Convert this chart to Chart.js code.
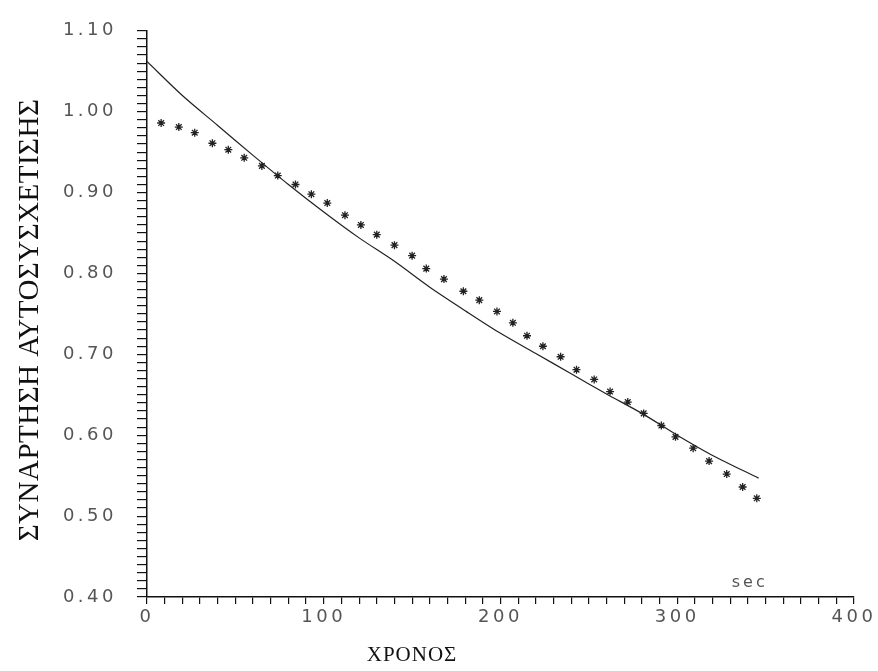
<!DOCTYPE html>
<html lang="el">
<head>
    <meta charset="UTF-8">
    <title>ΣΥΝΑΡΤΗΣΗ ΑΥΤΟΣΥΣΧΕΤΙΣΗΣ</title>
    <script src="https://cdn.jsdelivr.net/npm/chart.js"></script>
    <style>
        html, body { margin: 0; padding: 0; background: #fff; }
        #wrap { width: 878px; height: 671px; }
    </style>
</head>
<body>
    <div id="wrap"><canvas id="chart_acf" width="878" height="671"></canvas></div>

    <script>
        // measured points (stars)
        const measTime = [8, 18, 27, 37, 46, 55, 65, 74, 84, 93, 102, 112, 121, 130, 140, 150, 158, 168, 179, 188,
                          198, 207, 215, 224, 234, 243, 253, 262, 272, 281, 291, 299, 309, 318, 328, 337, 345];
        const measValue = [0.986, 0.981, 0.974, 0.961, 0.953, 0.943, 0.933, 0.921, 0.910, 0.898, 0.887, 0.872, 0.860,
                           0.848, 0.835, 0.822, 0.806, 0.793, 0.778, 0.767, 0.753, 0.739, 0.723, 0.710, 0.697, 0.681,
                           0.669, 0.654, 0.641, 0.627, 0.612, 0.598, 0.584, 0.568, 0.552, 0.536, 0.522];

        // fitted curve (solid line)
        const fitTime = [0, 20, 40, 60, 80, 100, 120, 140, 160, 180, 200, 220, 240, 260, 280, 300, 320, 346];
        const fitValue = [1.062, 1.020, 0.983, 0.946, 0.910, 0.876, 0.844, 0.815, 0.783, 0.754, 0.726, 0.701,
                          0.676, 0.651, 0.627, 0.600, 0.575, 0.547];

        const xMin = 0, xMax = 400;
        const yMin = 0.40, yMax = 1.10;

        const xTitle = 'ΧΡΟΝΟΣ';
        const yTitle = 'ΣΥΝΑΡΤΗΣΗ ΑΥΤΟΣΥΣΧΕΤΙΣΗΣ';
        const unitNote = 'sec';

        const tickFont = { family: 'DejaVu Sans', size: 18 };

        // letter spacing for the wide plotter-like tick lettering
        const spacingPlugin = {
            id: 'spacing',
            beforeDraw(chart) { chart.ctx.letterSpacing = '3.5px'; }
        };

        // axis titles and the "sec" note
        const textPlugin = {
            id: 'texts',
            afterDraw(chart) {
                const ctx = chart.ctx;
                const sx = chart.scales.x, sy = chart.scales.y;
                ctx.save();
                ctx.textAlign = 'center';
                ctx.textBaseline = 'middle';

                ctx.letterSpacing = '3px';
                ctx.font = '16px "DejaVu Sans"';
                ctx.fillStyle = '#555';
                ctx.fillText(unitNote, sx.getPixelForValue(341), sy.getPixelForValue(0.418));

                ctx.letterSpacing = '1px';
                ctx.fillStyle = '#111';
                ctx.font = '21px "Liberation Serif"';
                ctx.fillText(xTitle, 412, 655);

                ctx.letterSpacing = '0.5px';
                ctx.font = '29px "Liberation Serif"';
                ctx.translate(30, 320);
                ctx.rotate(-Math.PI / 2);
                ctx.fillText(yTitle, 0, 0);
                ctx.restore();
            }
        };

        const ctx = document.getElementById('chart_acf').getContext('2d');
        new Chart(ctx, {
            type: 'scatter',
            data: {
                datasets: [
                    {
                        label: 'fit',
                        type: 'line',
                        data: fitTime.map((t, i) => ({ x: t, y: fitValue[i] })),
                        borderColor: '#222',
                        borderWidth: 1.2,
                        pointRadius: 0,
                        tension: 0.3,
                        fill: false
                    },
                    {
                        label: 'measured',
                        data: measTime.map((t, i) => ({ x: t, y: measValue[i] })),
                        pointStyle: 'star',
                        pointRadius: 4,
                        borderColor: '#222',
                        borderWidth: 1.3,
                        backgroundColor: '#222'
                    }
                ]
            },
            options: {
                responsive: false,
                animation: false,
                layout: { padding: { top: 20, right: 24, left: 0, bottom: 0 } },
                plugins: {
                    legend: { display: false },
                    tooltip: { enabled: false }
                },
                scales: {
                    x: {
                        type: 'linear',
                        min: xMin,
                        max: xMax,
                        afterFit: s => { s.height = 74; },
                        border: { color: '#111', width: 1.5 },
                        grid: { drawOnChartArea: false, tickLength: 7, color: '#111', lineWidth: 1.2 },
                        ticks: {
                            stepSize: 10,
                            autoSkip: false,
                            maxTicksLimit: 100,
                            maxRotation: 0,
                            padding: 3,
                            color: '#555',
                            font: tickFont,
                            callback: v => (Math.round(v) % 100 === 0 ? String(Math.round(v)) : '')
                        }
                    },
                    y: {
                        type: 'linear',
                        min: yMin,
                        max: yMax,
                        afterFit: s => { s.width = 147; },
                        border: { color: '#111', width: 1.5 },
                        grid: { drawOnChartArea: false, tickLength: 10, color: '#111', lineWidth: 1.2 },
                        ticks: {
                            stepSize: 0.01,
                            autoSkip: false,
                            maxTicksLimit: 100,
                            padding: 20,
                            color: '#555',
                            font: tickFont,
                            callback: v => (Math.round(v * 100) % 10 === 0 ? v.toFixed(2) : '')
                        }
                    }
                }
            },
            plugins: [spacingPlugin, textPlugin]
        });
    </script>
</body>
</html>
